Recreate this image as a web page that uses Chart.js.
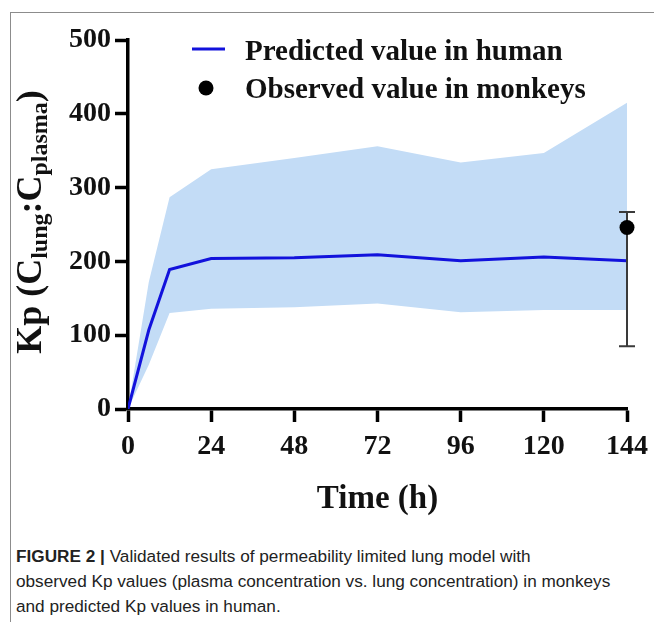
<!DOCTYPE html>
<html>
<head>
<meta charset="utf-8">
<script src="https://cdn.jsdelivr.net/npm/chart.js@4.4.1/dist/chart.umd.min.js"></script>
<style>
html,body{margin:0;padding:0;background:#fff;}
#fig{position:absolute;left:0;top:0;width:654px;height:622px;overflow:hidden;background:#fff;}
#frame{position:absolute;left:10px;top:12px;width:700px;height:700px;border-top:1.5px solid #8c8c8c;border-left:1.5px solid #8c8c8c;}
#wrap{position:absolute;left:0;top:0;width:654px;height:530px;}
#cap{position:absolute;left:16px;top:544px;width:636px;font-family:"Liberation Sans",Arial,sans-serif;font-size:17.2px;line-height:25px;color:#222;white-space:nowrap;}
#cap b{font-weight:bold;}
</style>
</head>
<body>
<div id="fig">
  <div id="frame"></div>
  <div id="wrap"><canvas id="c" width="654" height="530"></canvas></div>
  <div id="cap"><b>FIGURE 2 |</b> Validated results of permeability limited lung model with<br>observed Kp values (plasma concentration vs. lung concentration) in monkeys<br>and predicted Kp values in human.</div>
</div>
<script>
// ---- data ----
const hours          = [0, 6, 12, 24, 48, 72, 96, 120, 144];
const predictedHuman = [0, 107, 189, 204, 205, 209, 201, 206, 201];
const bandUpper      = [0, 172, 287, 325, 340, 356, 334, 347, 415];
const bandLower      = [0, 60, 130, 136, 138, 143, 131, 134, 134];
const obsTime        = [144];
const obsMonkey      = [246];
const obsErrLow      = [85];
const obsErrHigh     = [267];
const xTickValues    = [0, 24, 48, 72, 96, 120, 144];
const yTickValues    = [0, 100, 200, 300, 400, 500];
const seriesLabels   = ['Predicted value in human', 'Observed value in monkeys'];
const xTitle         = 'Time (h)';
const yTitleParts    = [['Kp (C', false], ['lung', true], [':C', false], ['plasma', true], [')', false]];

const SERIF = '"Liberation Serif", "Times New Roman", serif';
const LINE_BLUE = '#1212dc';
const BAND = '#c3dcf6';

const toXY = (xs, ys) => xs.map((x, i) => ({x: x, y: ys[i]}));

const errorBarPlugin = {
  id: 'errorBars',
  beforeDatasetDraw(chart, args) {
    if (args.index !== 3) return;
    const ctx = chart.ctx, xs = chart.scales.x, ys = chart.scales.y;
    ctx.save();
    ctx.strokeStyle = '#3a3a3a';
    ctx.lineWidth = 2;
    obsTime.forEach((t, i) => {
      const px = xs.getPixelForValue(t);
      const pTop = ys.getPixelForValue(obsErrHigh[i]);
      const pBot = ys.getPixelForValue(obsErrLow[i]);
      ctx.beginPath();
      ctx.moveTo(px, pTop); ctx.lineTo(px, pBot);
      ctx.moveTo(px - 8, pTop); ctx.lineTo(px + 8, pTop);
      ctx.moveTo(px - 8, pBot); ctx.lineTo(px + 8, pBot);
      ctx.stroke();
    });
    ctx.restore();
  }
};

const decorPlugin = {
  id: 'decor',
  afterDraw(chart) {
    const ctx = chart.ctx, area = chart.chartArea;
    ctx.save();
    ctx.fillStyle = '#111';
    // x title
    ctx.font = 'bold 33px ' + SERIF;
    ctx.textAlign = 'center';
    ctx.textBaseline = 'alphabetic';
    ctx.fillText(xTitle, (area.left + area.right) / 2, 508);

    // y title with subscripts (rotated)
    const mainFont = 'bold 36px ' + SERIF, subFont = 'bold 24px ' + SERIF;
    let total = 0;
    yTitleParts.forEach(([t, sub]) => { ctx.font = sub ? subFont : mainFont; total += ctx.measureText(t).width; });
    ctx.translate(41, 222);
    ctx.rotate(-Math.PI / 2);
    ctx.textAlign = 'left';
    let pos = -total / 2;
    yTitleParts.forEach(([t, sub]) => {
      ctx.font = sub ? subFont : mainFont;
      ctx.fillText(t, pos, sub ? 6 : 0);
      pos += ctx.measureText(t).width;
    });
    ctx.setTransform(1, 0, 0, 1, 0, 0);

    // legend
    ctx.strokeStyle = LINE_BLUE;
    ctx.lineWidth = 3;
    ctx.beginPath(); ctx.moveTo(192, 49); ctx.lineTo(225, 49); ctx.stroke();
    ctx.fillStyle = '#000';
    ctx.beginPath(); ctx.arc(206, 88, 7.5, 0, Math.PI * 2); ctx.fill();
    ctx.fillStyle = '#111';
    ctx.font = 'bold 29px ' + SERIF;
    ctx.textAlign = 'left';
    ctx.fillText(seriesLabels[0], 245, 60);
    ctx.fillText(seriesLabels[1], 245, 98);
    ctx.restore();
  }
};

new Chart(document.getElementById('c'), {
  type: 'line',
  data: {
    datasets: [
      { label: 'upper', data: toXY(hours, bandUpper), borderWidth: 0, pointRadius: 0, fill: '+1', backgroundColor: BAND, borderColor: BAND, order: 3 },
      { label: 'lower', data: toXY(hours, bandLower), borderWidth: 0, pointRadius: 0, fill: false, borderColor: BAND, order: 3 },
      { label: seriesLabels[0], data: toXY(hours, predictedHuman), borderColor: LINE_BLUE, borderWidth: 3, pointRadius: 0, fill: false, tension: 0, order: 1 },
      { label: seriesLabels[1], type: 'scatter', data: toXY(obsTime, obsMonkey), pointRadius: 7.5, pointBackgroundColor: '#000', pointBorderColor: '#000', borderWidth: 0, showLine: false, order: 0, clip: false }
    ]
  },
  options: {
    responsive: false,
    animation: false,
    devicePixelRatio: 1,
    layout: { padding: { top: 40, right: 27, left: 0, bottom: 0 } },
    plugins: { legend: { display: false }, tooltip: { enabled: false } },
    scales: {
      x: {
        type: 'linear', min: 0, max: 144,
        afterBuildTicks: s => { s.ticks = xTickValues.map(v => ({value: v})); },
        afterFit: s => { s.height = 121; s.paddingLeft = 0; s.paddingRight = 0; },
        grid: { drawOnChartArea: false, drawTicks: true, tickLength: 13, tickWidth: 3.5, tickColor: '#000' },
        border: { display: true, color: '#000', width: 3.5 },
        ticks: { color: '#111', padding: 8, maxRotation: 0, font: { family: SERIF, size: 28, weight: 'bold' } }
      },
      y: {
        type: 'linear', min: 0, max: 500,
        afterBuildTicks: s => { s.ticks = yTickValues.map(v => ({value: v})); },
        afterFit: s => { s.width = 128; s.paddingTop = 0; s.paddingBottom = 0; },
        grid: { drawOnChartArea: false, drawTicks: true, tickLength: 13, tickWidth: 3.5, tickColor: '#000' },
        border: { display: true, color: '#000', width: 3.5 },
        ticks: { color: '#111', padding: 4, font: { family: SERIF, size: 28, weight: 'bold' } }
      }
    }
  },
  plugins: [errorBarPlugin, decorPlugin]
});
</script>
</body>
</html>
